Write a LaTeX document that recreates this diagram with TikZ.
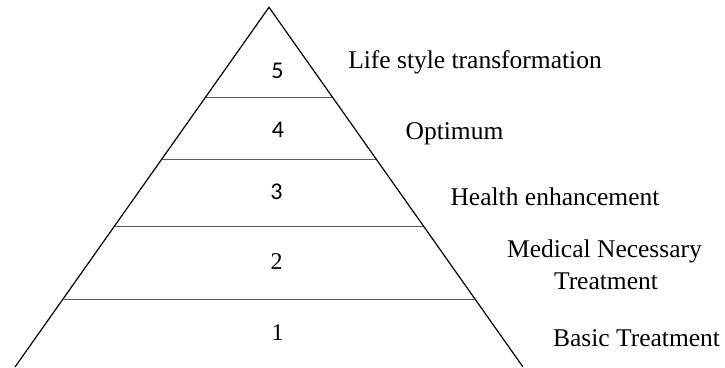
\documentclass[tikz,border=0pt]{standalone}
\usepackage{fontspec}
\setmainfont{Liberation Serif}
\newfontfamily\digitfont{Carlito}
\usetikzlibrary{calc}
\begin{document}
\begin{tikzpicture}[x=1pt,y=1pt,
  edge/.style={line width=1.2pt,black},
  tier/.style={line width=0.9pt,black!65},
  lbl/.style={anchor=base,font=\fontsize{25.5}{29}\selectfont,inner sep=0pt,align=center},
  num/.style={anchor=base,font=\fontsize{24}{28}\selectfont,inner sep=0pt}]
\useasboundingbox (0,0) rectangle (725,367);
\coordinate (apex) at (269,359.7);
\coordinate (bl) at (15,0);
\coordinate (br) at (523,0);
\draw[edge] (bl) -- (apex) -- (br);
\coordinate (l4) at ($(apex)!0.2494!(bl)$);
\coordinate (r4) at ($(apex)!0.2494!(br)$);
\coordinate (l3) at ($(apex)!0.4217!(bl)$);
\coordinate (r3) at ($(apex)!0.4217!(br)$);
\coordinate (l2) at ($(apex)!0.6080!(bl)$);
\coordinate (r2) at ($(apex)!0.6080!(br)$);
\coordinate (l1) at ($(apex)!0.8110!(bl)$);
\coordinate (r1) at ($(apex)!0.8110!(br)$);
\draw[tier] (l4) -- (r4);
\draw[tier] (l3) -- (r3);
\draw[tier] (l2) -- (r2);
\draw[tier] (l1) -- (r1);
\node[num] (n5) at (277.5,288) {\digitfont 5};
\node[num] (n4) at (278,229) {\digitfont 4};
\node[num] (n3) at (276.5,167) {\digitfont 3};
\node[num] (n2) at (276.7,98) {2};
\node[num] (n1) at (277.5,27) {1};
\node[lbl] (t5) at (475,298.7) {Life style transformation};
\node[lbl] (t4) at (454.5,227) {Optimum};
\node[lbl] (t3) at (555,161.3) {Health enhancement};
\node[lbl] (t2a) at (604.5,110) {Medical Necessary};
\node[lbl] (t2b) at (606,78) {Treatment};
\node[lbl] (t1) at (636.5,20.3) {Basic Treatment};
\end{tikzpicture}
\end{document}
